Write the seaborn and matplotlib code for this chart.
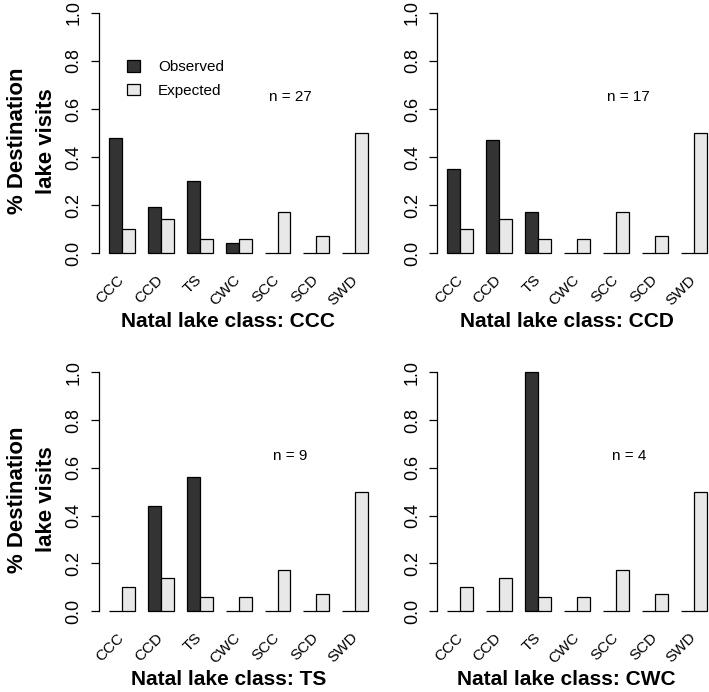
'''Observed vs expected destination lake visits by natal lake class.'''

import pandas as pd
import matplotlib.pyplot as plt
from matplotlib.patches import Patch
import seaborn as sns

sns.set_theme(style="white", context="paper")
plt.rcParams['font.family'] = ['Liberation Sans', 'DejaVu Sans']
plt.rcParams['text.color'] = 'black'
plt.rcParams['axes.labelcolor'] = 'black'

#data
lake_classes = ['CCC', 'CCD', 'TS', 'CWC', 'SCC', 'SCD', 'SWD']
expected = [0.10, 0.14, 0.06, 0.06, 0.17, 0.07, 0.50]
natal_classes = ['CCC', 'CCD', 'TS', 'CWC']
sample_sizes = [27, 17, 9, 4]
observed_ccc = [0.48, 0.19, 0.30, 0.04, 0.0, 0.0, 0.0]
observed_ccd = [0.35, 0.47, 0.17, 0.0, 0.0, 0.0, 0.0]
observed_ts = [0.0, 0.44, 0.56, 0.0, 0.0, 0.0, 0.0]
observed_cwc = [0.0, 0.0, 1.0, 0.0, 0.0, 0.0, 0.0]
observed = [observed_ccc, observed_ccd, observed_ts, observed_cwc]

colors = {'Observed': '#333333', 'Expected': '#e8e8e8'}

fig = plt.figure(figsize=(7.09, 6.92), dpi=100)
positions = [
    [0.1391, 0.6205, 0.3949, 0.3746],
    [0.6164, 0.6205, 0.3949, 0.3746],
    [0.1391, 0.1033, 0.3949, 0.3724],
    [0.6164, 0.1033, 0.3949, 0.3724],
]

for i, natal in enumerate(natal_classes):
    ax = fig.add_axes(positions[i])
    df = pd.DataFrame({
        'lake': lake_classes * 2,
        'value': observed[i] + expected,
        'type': ['Observed'] * 7 + ['Expected'] * 7,
    })
    sns.barplot(data=df, x='lake', y='value', hue='type', order=lake_classes,
                hue_order=['Observed', 'Expected'], palette=colors,
                width=2/3, gap=0, edgecolor='black', linewidth=0.9,
                legend=False, ax=ax, errorbar=None, saturation=1)
    ax.set_xlim(-0.6, 6.6)
    ax.set_ylim(-0.04, 1.04)
    for s in ['top', 'right', 'bottom']:
        ax.spines[s].set_visible(False)
    ax.spines['left'].set_bounds(0, 1)
    ax.spines['left'].set_linewidth(0.9)
    ax.spines['left'].set_color('black')
    ax.set_yticks([0, 0.2, 0.4, 0.6, 0.8, 1.0])
    ax.set_yticklabels(['0.0', '0.2', '0.4', '0.6', '0.8', '1.0'])
    ax.tick_params(axis='y', left=True, length=6, width=0.9, pad=5.5,
                   labelsize=13, labelrotation=90, colors='black')
    plt.setp(ax.get_yticklabels(), va='center')
    ax.set_xticks(range(len(lake_classes)))
    ax.set_xticklabels(lake_classes, rotation=45, ha='right',
                       rotation_mode='anchor', va='center')
    ax.tick_params(axis='x', bottom=False, pad=6, labelsize=11, colors='black')

    ax.set_xlabel(f'Natal lake class: {natal}', fontsize=15, fontweight='bold')
    ax.xaxis.label.set_va('center')
    ax.xaxis.set_label_coords(0.463, -0.228)
    if i % 2 == 0:
        ax.set_ylabel('% Destination\nlake visits', fontsize=16,
                      fontweight='bold', linespacing=1.45)
        ax.yaxis.set_label_coords(-0.15, 0.47)
    else:
        ax.set_ylabel('')

    ax.text(13/3, 0.65, f'n = {sample_sizes[i]}', ha='center', va='center',
            fontsize=11, color='black')

    if i == 0:
        handles = [Patch(facecolor=colors[k], edgecolor='black', linewidth=0.9,
                         label=k) for k in ['Observed', 'Expected']]
        ax.legend(handles=handles, loc='upper left', bbox_to_anchor=(0.1, 0.78),
                  frameon=False, fontsize=11, handlelength=0.85,
                  handleheight=0.75, handletextpad=1.2, labelspacing=0.6,
                  borderpad=0, borderaxespad=0)

plt.savefig('out.png', dpi=100)
